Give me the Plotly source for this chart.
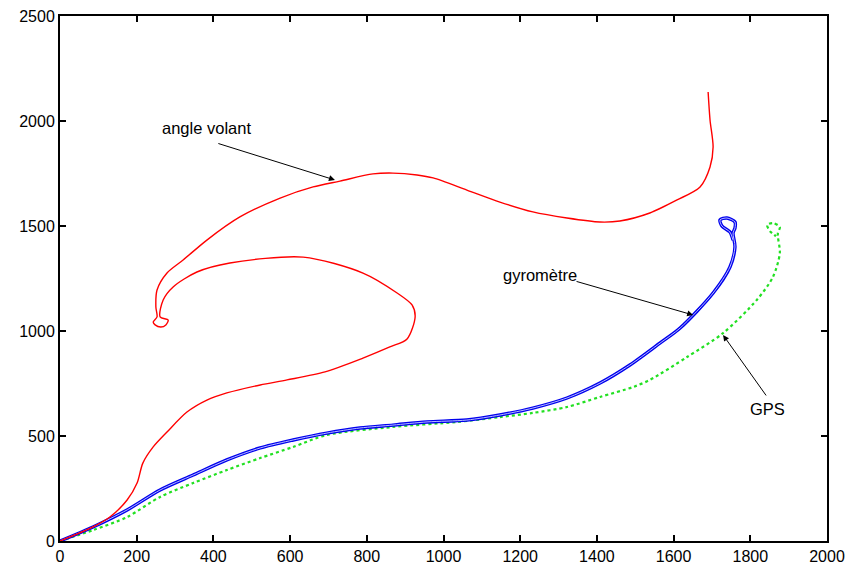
import plotly.graph_objects as go

# angle volant (red)
red_x = [0, 86, 130, 175, 201, 216, 243, 279, 331, 383, 435, 522, 592, 691, 790, 860, 905, 926, 918, 879,
         790, 634, 443, 357, 295, 269, 261, 282, 276, 263, 248, 243, 253, 250, 253, 279, 321, 383, 469, 574,
         660, 730, 816, 868, 931, 973, 1061, 1147, 1233, 1322, 1408, 1460, 1538, 1609, 1669, 1695, 1703, 1695, 1690]
red_y = [0, 67, 114, 195, 276, 371, 448, 519, 614, 671, 705, 743, 767, 805, 871, 924, 962, 1067, 1124, 1181,
         1276, 1352, 1324, 1281, 1210, 1148, 1067, 1052, 1029, 1019, 1029, 1043, 1067, 1114, 1195, 1276, 1338, 1433, 1543, 1633,
         1686, 1714, 1748, 1752, 1743, 1729, 1671, 1614, 1567, 1538, 1519, 1524, 1562, 1624, 1686, 1781, 1876, 2005, 2138]

# gyromètre (blue)
blue_x = [0, 86, 175, 261, 347, 435, 522, 608, 696, 782, 868, 957, 1061, 1147, 1233, 1322, 1408, 1486, 1565, 1617,
          1703, 1747, 1760, 1755, 1760, 1760, 1739, 1721, 1726, 1747, 1755]
blue_y = [0, 67, 148, 243, 314, 386, 443, 481, 514, 538, 552, 567, 576, 600, 633, 681, 752, 838, 943, 1014,
          1181, 1305, 1400, 1467, 1490, 1519, 1538, 1529, 1500, 1471, 1433]

# GPS (green)
green_x = [0, 86, 175, 261, 347, 435, 522, 608, 696, 868, 1035, 1147, 1233, 1322, 1408, 1494, 1538, 1635, 1729, 1817,
           1859, 1877, 1872, 1872, 1877, 1859, 1844, 1851, 1867]
green_y = [0, 52, 114, 210, 276, 338, 395, 448, 505, 543, 567, 590, 610, 638, 686, 733, 767, 876, 990, 1148,
           1257, 1371, 1448, 1467, 1495, 1514, 1505, 1476, 1452]

x_ticks = [0, 200, 400, 600, 800, 1000, 1200, 1400, 1600, 1800, 2000]
y_ticks = [0, 500, 1000, 1500, 2000, 2500]

fig = go.Figure()
fig.add_trace(go.Scatter(x=green_x, y=green_y, mode="lines",
                         line=dict(color="#22e022", width=2.2, dash="3px,3px", shape="spline", smoothing=0.8),
                         hoverinfo="skip"))
fig.add_trace(go.Scatter(x=blue_x, y=blue_y, mode="lines",
                         line=dict(color="#0000ee", width=3.4, shape="spline", smoothing=0.8), hoverinfo="skip"))
fig.add_trace(go.Scatter(x=blue_x, y=blue_y, mode="lines",
                         line=dict(color="#b8bcff", width=1, shape="spline", smoothing=0.8), hoverinfo="skip"))
fig.add_trace(go.Scatter(x=red_x, y=red_y, mode="lines",
                         line=dict(color="#ff0000", width=1.4, shape="spline", smoothing=0.8), hoverinfo="skip"))

font = dict(family="Liberation Sans, Arial, sans-serif", size=16.5, color="black")
ann = []
for text, tx, ty, ax, ay, hx, hy in [
    ("angle volant", 383, 1967, 409, 1895, 717, 1719),
    ("gyromètre", 1252, 1267, 1343, 1238, 1651, 1076),
    ("GPS", 1844, 629, 1844, 686, 1729, 981),
]:
    ann.append(dict(x=tx, y=ty, xref="x", yref="y", text=text, showarrow=False, font=font))
    ann.append(dict(x=hx, y=hy, ax=ax, ay=ay, xref="x", yref="y", axref="x", ayref="y",
                    text="", showarrow=True, arrowhead=2, arrowsize=1.2, arrowwidth=1,
                    arrowcolor="black", standoff=0))

axis_common = dict(showgrid=False, zeroline=False, showline=True, linecolor="black", linewidth=2,
                   mirror="ticks", ticks="inside", ticklen=6, tickwidth=2, tickcolor="black",
                   tickfont=dict(family="Liberation Sans, Arial, sans-serif", size=16, color="black"),
                   automargin=False, ticklabeloverflow="allow")
fig.update_layout(
    width=848, height=560,
    margin=dict(l=52, r=29, t=8, b=27, autoexpand=False),
    paper_bgcolor="white", plot_bgcolor="white",
    showlegend=False,
    xaxis=dict(range=[0, 2000], tickvals=x_ticks, ticktext=[str(v) for v in x_ticks], **axis_common),
    yaxis=dict(range=[0, 2500], tickvals=y_ticks, ticktext=[str(v) for v in y_ticks], **axis_common),
    annotations=ann,
)
fig.write_html("out.html")
